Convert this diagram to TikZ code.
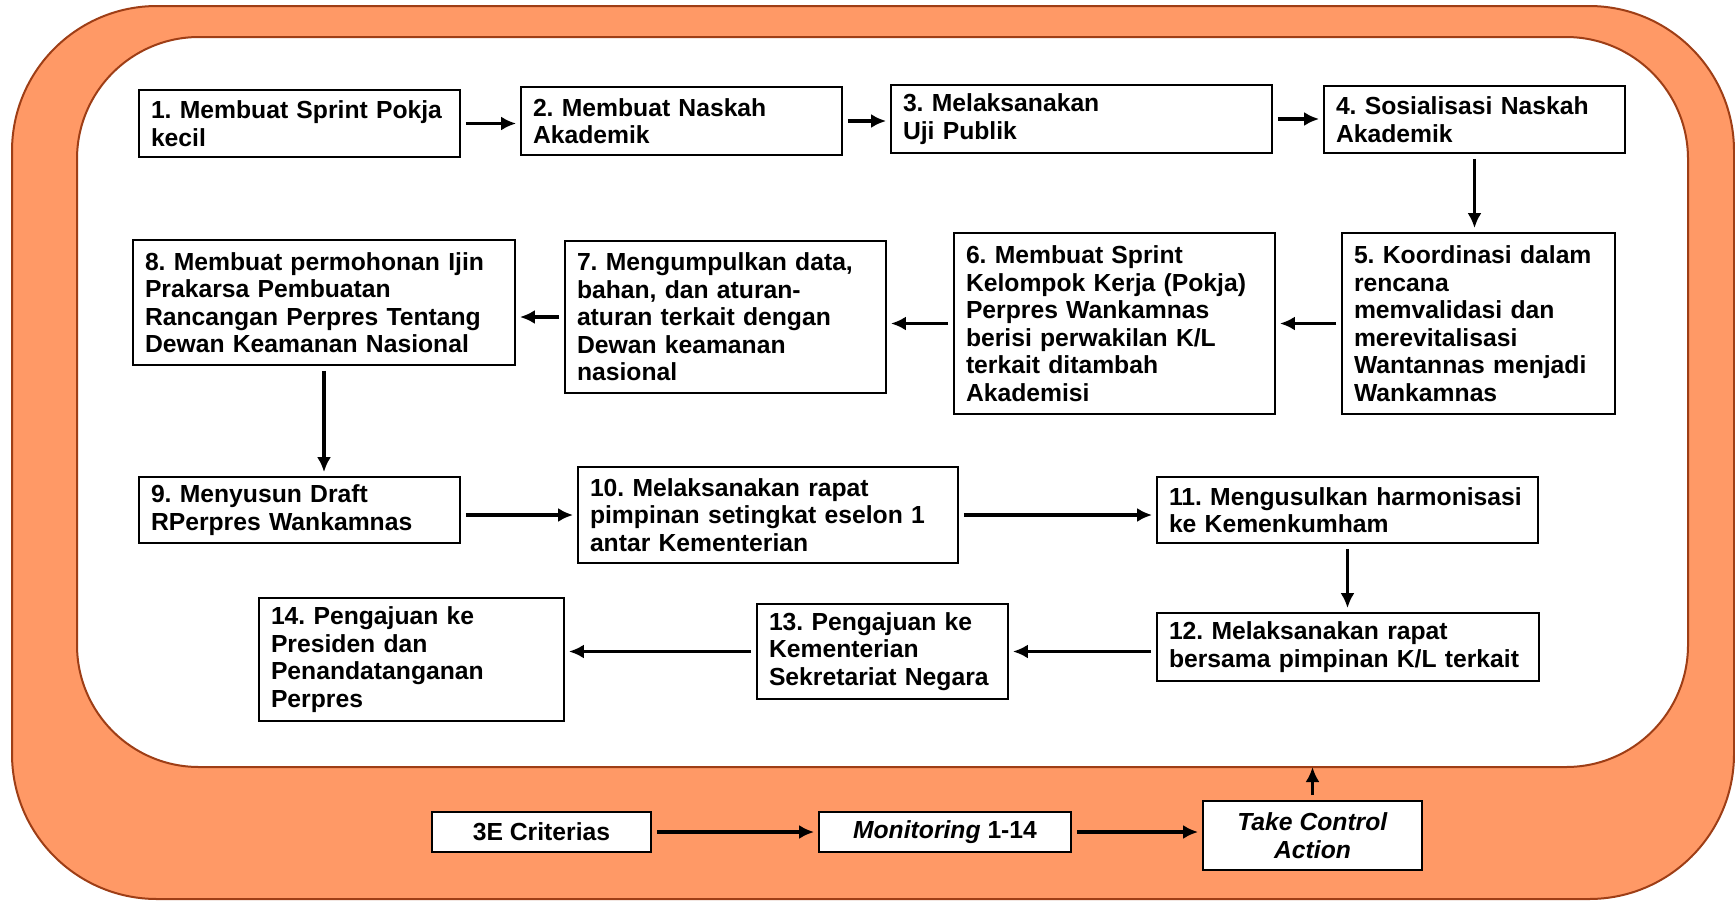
\documentclass[tikz,border=0pt]{standalone}
\usepackage{fontspec}
\setmainfont{Liberation Sans}
\usepackage{tikz}
\usepackage{xcolor}
\usetikzlibrary{arrows.meta,positioning,calc}
\definecolor{ring}{RGB}{255,153,102}
\definecolor{rim}{RGB}{158,62,22}

\begin{document}
\frenchspacing
\begin{tikzpicture}[x=1pt,y=-1pt,
stp/.style={draw,line width=1.8pt,fill=white,align=left,inner xsep=12pt,font=\fontsize{24.7}{27.5}\selectfont\bfseries},
ctl/.style={draw,line width=1.8pt,fill=white,align=center,font=\fontsize{24.7}{27.5}\selectfont\bfseries},
arr/.style={-{Latex[length=15pt,width=14pt]},line width=3.6pt,shorten <=5pt,shorten >=4pt}]

\useasboundingbox (0,0) rectangle (1735,900);
\draw[rim,fill=ring,line width=2pt,rounded corners=145pt] (12,6) rectangle (1734,899);
\draw[rim,fill=white,line width=2pt,rounded corners=122pt] (77,37) rectangle (1688,767);
\coordinate (W) at (0,767);

\node[stp,text width=297pt,minimum height=67pt] (1) at (299.5,123.5) {1. Membuat Sprint Pokja\\kecil};
\node[stp,text width=297pt,minimum height=68pt] (2) at (681.5,121) {2. Membuat Naskah\\Akademik};
\node[stp,text width=357pt,minimum height=68pt] (3) at (1081.5,119) {3. Melaksanakan\\Uji Publik};
\node[stp,text width=277pt,minimum height=67pt] (4) at (1474.5,119.5) {4. Sosialisasi Naskah\\Akademik};
\node[stp,text width=249pt,minimum height=181pt] (5) at (1478.5,323.5) {5. Koordinasi dalam\\rencana\\memvalidasi dan\\merevitalisasi\\Wantannas menjadi\\Wankamnas};
\node[stp,text width=297pt,minimum height=181pt] (6) at (1114.5,323.5) {6. Membuat Sprint\\Kelompok Kerja (Pokja)\\Perpres Wankamnas\\berisi perwakilan K/L\\terkait ditambah\\Akademisi};
\node[stp,text width=297pt,minimum height=152pt] (7) at (725.5,317) {7. Mengumpulkan data,\\bahan, dan aturan-\\aturan terkait dengan\\Dewan keamanan\\nasional};
\node[stp,text width=358pt,minimum height=125pt] (8) at (324,302.5) {8. Membuat permohonan Ijin\\Prakarsa Pembuatan\\Rancangan Perpres Tentang\\Dewan Keamanan Nasional};
\node[stp,text width=297pt,minimum height=66pt] (9) at (299.5,510) {9. Menyusun Draft\\RPerpres Wankamnas};
\node[stp,text width=356pt,minimum height=96pt] (10) at (768,515) {10. Melaksanakan rapat\\pimpinan setingkat eselon 1\\antar Kementerian};
\node[stp,text width=357pt,minimum height=66pt] (11) at (1347.5,510) {11. Mengusulkan harmonisasi\\ke Kemenkumham};
\node[stp,text width=358pt,minimum height=68pt] (12) at (1348,647) {12. Melaksanakan rapat\\bersama pimpinan K/L terkait};
\node[stp,text width=227pt,minimum height=95pt] (13) at (882.5,651.5) {13. Pengajuan ke\\Kementerian\\Sekretariat Negara};
\node[stp,text width=281pt,minimum height=123pt] (14) at (411.5,659.5) {14. Pengajuan ke\\Presiden dan\\Penandatanganan\\Perpres};

\node[ctl,minimum width=219pt,minimum height=40pt] (C) at (541.5,832) {3E Criterias};
\node[ctl,minimum width=252pt,minimum height=40pt] (M) at (945,832) {\textit{Monitoring} 1-14};
\node[ctl,minimum width=219pt,minimum height=69pt] (T) at (1312.5,835.5) {\textit{Take Control}\\\textit{Action}};

\draw[arr] (1.east) -- (1.east -| 2.west);
\draw[arr] (2.east) -- (2.east -| 3.west);
\draw[arr] (3.east) -- (3.east -| 4.west);
\draw[arr] (4.south) -- (4.south |- 5.north);
\draw[arr] (5.west) -- (5.west -| 6.east);
\draw[arr] (6.west) -- (6.west -| 7.east);
\draw[arr] (7.west) -- (7.west -| 8.east);
\draw[arr] (8.south) -- (8.south |- 9.north);
\draw[arr] (10.west -| 9.east) -- (10.west);
\draw[arr] (10.east) -- (10.east -| 11.west);
\draw[arr] (11.south) -- (11.south |- 12.north);
\draw[arr] (13.east -| 12.west) -- (13.east);
\draw[arr] (13.west) -- (13.west -| 14.east);
\draw[arr] (C) -- (M);
\draw[arr] (M.east) -- (M.east -| T.west);
\draw[arr,shorten >=0pt] (T.north) -- (T.north |- W);
\end{tikzpicture}
\end{document}
